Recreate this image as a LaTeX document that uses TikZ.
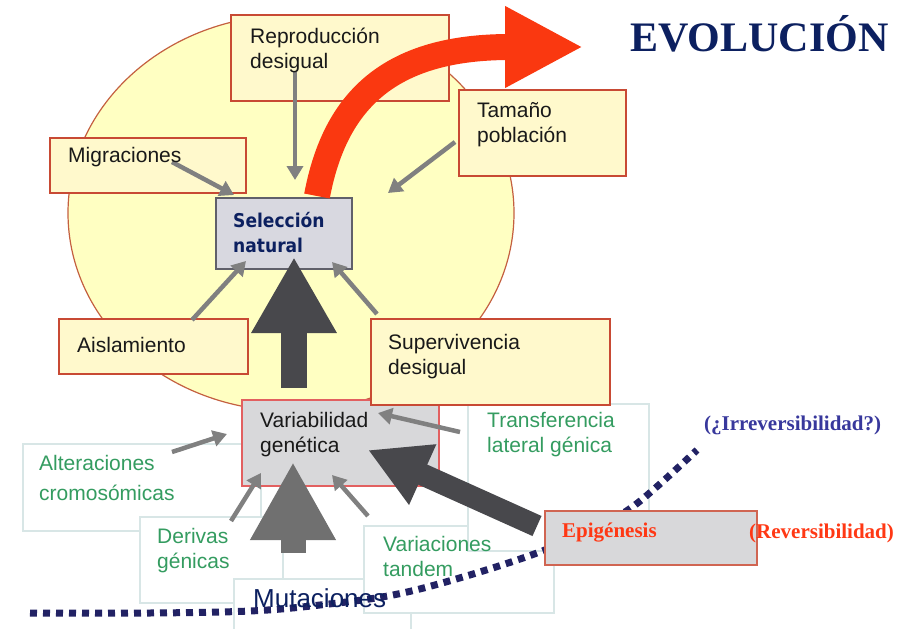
\documentclass[tikz,border=0pt]{standalone}
\usepackage{fontspec}
\setmainfont{Liberation Sans}
\newfontfamily\titleserif{Liberation Serif}
\newfontfamily\selfont{DejaVu Sans Condensed}
\usetikzlibrary{arrows.meta,shapes.geometric}

\definecolor{poolfill}{RGB}{255,255,194}
\definecolor{poolline}{RGB}{196,96,64}
\definecolor{yfill}{RGB}{255,249,204}
\definecolor{yline}{RGB}{200,74,52}
\definecolor{gfill}{RGB}{216,216,218}
\definecolor{selfill}{RGB}{216,216,224}
\definecolor{selline}{RGB}{96,96,106}
\definecolor{redline}{RGB}{226,96,96}
\definecolor{paleline}{RGB}{216,230,230}
\definecolor{navy}{RGB}{12,32,96}
\definecolor{greentxt}{RGB}{52,156,96}
\definecolor{thingray}{RGB}{128,128,128}
\definecolor{darkgray}{RGB}{72,72,76}
\definecolor{midgray}{RGB}{112,112,112}
\definecolor{evored}{RGB}{250,56,16}
\definecolor{txtred}{RGB}{255,56,20}
\definecolor{irrblue}{RGB}{56,56,156}
\definecolor{dotnavy}{RGB}{34,34,100}

\newcommand\twolines[2]{\begin{tabular}[t]{@{}l@{}}#1\\#2\end{tabular}}

\tikzset{
  ybox/.style={draw=yline, fill=yfill, line width=1.8pt, inner sep=0pt, anchor=north west},
  gbox/.style={draw=redline, fill=gfill, line width=1.8pt, inner sep=0pt, anchor=north west},
  selbox/.style={draw=selline, fill=selfill, line width=1.5pt, inner sep=0pt, anchor=north west},
  wbox/.style={draw=paleline, fill=white, line width=1.5pt, inner sep=0pt, anchor=north west},
  lbl/.style={anchor=base west, inner sep=0pt, text=black!90,
    font=\fontsize{21}{25}\selectfont},
  glbl/.style={lbl, text=greentxt},
  thinarr/.style={draw=thingray, line width=4.5pt,
    -{Triangle[length=14pt,width=16pt]}},
  redarr/.style={draw=evored, line width=26pt,
    -{Triangle[length=78pt,width=76pt]}},
  dots/.style={draw=dotnavy, line width=7pt, dash pattern=on 7pt off 6pt}
}

\begin{document}
\begin{tikzpicture}[x=1pt,y=-1pt]
\useasboundingbox (0,0) rectangle (903,629);

% population pool
\node[ellipse, draw=poolline, fill=poolfill, line width=1.2pt,
      minimum width=446pt, minimum height=396pt, inner sep=0pt] (pool) at (291,213) {};

% factors acting on natural selection
\node[ybox, minimum width=218pt, minimum height=86pt] (rep) at (230,14) {};
\node[ybox, minimum width=196pt, minimum height=55pt] (mig) at (49,137) {};
\node[ybox, minimum width=167pt, minimum height=86pt] (tam) at (458,89) {};
\node[ybox, minimum width=189pt, minimum height=55pt] (ais) at (58,318) {};
\node[selbox, minimum width=136pt, minimum height=71pt] (sel) at (215,197) {};

% sources of variability
\node[wbox, minimum width=238pt, minimum height=87pt] (alt) at (22,443) {};
\node[wbox, minimum width=143pt, minimum height=86pt] (der) at (139,516) {};
\node[wbox, minimum width=177pt, minimum height=62pt] (mut) at (233,578) {};
\node[wbox, minimum width=190pt, minimum height=87pt] (vtd) at (363,525) {};
\node[wbox, minimum width=181pt, minimum height=147pt] (tra) at (467,403) {};
\node[gbox, minimum width=197pt, minimum height=86pt] (var) at (241,399) {};
\node[ybox, minimum width=239pt, minimum height=86pt] (sup) at (370,318) {};

% reversibility path
\draw[dots] plot[smooth, tension=0.6] coordinates
  {(30,613) (150,613) (250,611) (320,605) (393,595) (463,577) (537,553)
   (590,530) (635,505) (697,450)};

\node[gbox, draw=yline!85, minimum width=212pt, minimum height=54pt] (epi) at (544,510) {};

% main flows
\coordinate (vtop) at (294,388);
\coordinate (stip) at (294,257);
\draw[darkgray, line width=26pt, -{Triangle[length=76pt,width=80pt]}] (vtop) -- (stip);
\coordinate (mbot) at (293,553);
\coordinate (vtip) at (293,462);
\draw[midgray, line width=25pt, -{Triangle[length=78pt,width=80pt]}] (mbot) -- (vtip);
\coordinate (estart) at (537,526);
\coordinate (etip) at (368,450);
\draw[darkgray, line width=22pt, -{Triangle[length=60pt,width=62pt]}] (estart) -- (etip);

% thin influence arrows
\coordinate (a1) at (295,72);   \coordinate (b1) at (295,180);
\coordinate (a2) at (172,162);  \coordinate (b2) at (234,195);
\coordinate (a3) at (455,142);  \coordinate (b3) at (388,193);
\coordinate (a4) at (192,320);  \coordinate (b4) at (246,261);
\coordinate (a5) at (377,314);  \coordinate (b5) at (332,262);
\coordinate (a6) at (172,452);  \coordinate (b6) at (227,434);
\coordinate (a7) at (460,432);  \coordinate (b7) at (378,413);
\coordinate (a8) at (231,521);  \coordinate (b8) at (261,473);
\coordinate (a9) at (368,516);  \coordinate (b9) at (332,475);
\foreach \i in {1,...,9} \draw[thinarr] (a\i) -- (b\i);

% evolution arrow
\coordinate (redstart) at (317,196);
\coordinate (redtip) at (583,47);
\draw[redarr] (redstart) .. controls (335,100) and (390,47) .. (redtip);

% labels
\node[lbl] (trep) at (250,43) {\twolines{Reproducción}{desigual}};
\node[lbl] (tmig) at (68,162) {Migraciones};
\node[lbl] (ttam) at (477,117) {\twolines{Tamaño}{población}};
\node[lbl, text=navy, font=\selfont\bfseries\fontsize{19}{25}\selectfont] (tsel) at (233,227) {\twolines{Selección}{natural}};
\node[lbl] (tais) at (77,352) {Aislamiento};
\node[lbl] (tsup) at (388,349) {\twolines{Supervivencia}{desigual}};
\node[lbl] (tvar) at (260,427) {\twolines{Variabilidad}{genética}};
\node[glbl, font=\fontsize{21}{30}\selectfont] (talt) at (39,470) {\twolines{Alteraciones}{cromosómicas}};
\node[glbl] (ttra) at (487,427) {\twolines{Transferencia}{lateral génica}};
\node[glbl] (tder) at (157,543) {\twolines{Derivas}{génicas}};
\node[glbl] (tvtd) at (383,551) {\twolines{Variaciones}{tandem}};
\node[lbl, text=navy, font=\fontsize{26}{30}\selectfont] (tmut) at (253,607) {Mutaciones};
\node[lbl, text=txtred, font=\titleserif\bfseries\fontsize{21}{24}\selectfont] (tepi) at (562,537) {Epigénesis};
\node[lbl, text=txtred, font=\titleserif\bfseries\fontsize{21}{24}\selectfont] (trev) at (749,538) {(Reversibilidad)};
\node[lbl, text=irrblue, font=\titleserif\bfseries\fontsize{21}{24}\selectfont] (tirr) at (704,430) {(¿Irreversibilidad?)};
\node[lbl, text=navy, font=\titleserif\bfseries\fontsize{42}{48}\selectfont] (title) at (630,51) {EVOLUCIÓN};
\end{tikzpicture}
\end{document}
